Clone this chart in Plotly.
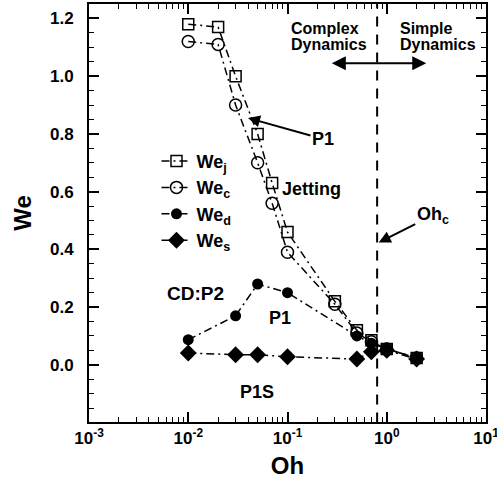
import math
import plotly.graph_objects as go

# ---------------- data ----------------
oh_jc = [0.01, 0.02, 0.03, 0.05, 0.07, 0.1, 0.3, 0.5, 0.7, 1.0, 2.0]
we_j = [1.18, 1.17, 1.00, 0.80, 0.63, 0.46, 0.22, 0.12, 0.085, 0.055, 0.024]
we_c = [1.12, 1.11, 0.90, 0.70, 0.56, 0.39, 0.21, 0.11, 0.08, 0.055, 0.024]
oh_ds = [0.01, 0.03, 0.05, 0.1, 0.5, 0.7, 1.0, 2.0]
we_d = [0.087, 0.17, 0.28, 0.25, 0.10, 0.075, 0.055, 0.024]
we_s = [0.041, 0.035, 0.035, 0.028, 0.02, 0.045, 0.05, 0.02]
oh_crit = 0.8
x_tickvals = [0.001, 0.01, 0.1, 1, 10]
x_ticktext = ["10<sup>-3</sup>", "10<sup>-2</sup>", "10<sup>-1</sup>", "10<sup>0</sup>", "10<sup>1</sup>"]
y_tickvals = [0.0, 0.2, 0.4, 0.6, 0.8, 1.0, 1.2]
y_ticktext = ["0.0", "0.2", "0.4", "0.6", "0.8", "1.0", "1.2"]

FONT = "Liberation Sans, Arial, Helvetica, sans-serif"
DASH = "8px,4px,2px,4px"
LW = 1.5

x_minor = [m * d for d in x_tickvals[:-1] for m in range(2, 10)]

fig = go.Figure()

series = [
    ("We<sub>j</sub>", oh_jc, we_j, dict(symbol="square-open", size=11, color="black", line=dict(width=1.5, color="black"))),
    ("We<sub>c</sub>", oh_jc, we_c, dict(symbol="circle-open", size=12, color="black", line=dict(width=1.5, color="black"))),
    ("We<sub>d</sub>", oh_ds, we_d, dict(symbol="circle", size=11, color="black")),
    ("We<sub>s</sub>", oh_ds, we_s, dict(symbol="diamond", size=13, color="black")),
]
for name, xs, ys, mk in series:
    fig.add_trace(go.Scatter(
        x=xs, y=ys, name=name, mode="lines+markers",
        line=dict(color="black", width=LW, dash=DASH),
        marker=mk,
    ))

# critical Ohnesorge line
fig.add_trace(go.Scatter(
    x=[oh_crit, oh_crit], y=[-0.2, 1.25], mode="lines", showlegend=False,
    line=dict(color="black", width=2, dash="10px,8px"), hoverinfo="skip",
))

def bfont(size):
    return dict(family=FONT, size=size, color="black", weight="bold")

L = math.log10
annotations = [
    dict(x=L(0.103), y=1.165, text="Complex", showarrow=False, xanchor="left", font=bfont(16)),
    dict(x=L(0.103), y=1.108, text="Dynamics", showarrow=False, xanchor="left", font=bfont(16)),
    dict(x=L(1.30), y=1.165, text="Simple", showarrow=False, xanchor="left", font=bfont(16)),
    dict(x=L(1.30), y=1.108, text="Dynamics", showarrow=False, xanchor="left", font=bfont(16)),
    # double arrow
    dict(x=L(2.5), y=1.045, ax=L(0.27), ay=1.045, axref="x", ayref="y", xref="x", yref="y",
         text="", showarrow=True, arrowhead=2, startarrowhead=2, arrowside="end+start",
         arrowsize=1.4, startarrowsize=1.4, arrowwidth=2, arrowcolor="black"),
    dict(x=L(0.04), y=0.855, ax=75, ay=21, text="P1", showarrow=True, arrowhead=2,
         arrowsize=1.2, arrowwidth=2, arrowcolor="black", font=bfont(18)),
    dict(x=L(0.176), y=0.61, text="Jetting", showarrow=False, font=bfont(18)),
    dict(x=L(0.83), y=0.424, ax=54, ay=-27, text="Oh<sub>c</sub>", showarrow=True, arrowhead=2,
         arrowsize=1.2, arrowwidth=2, arrowcolor="black", font=bfont(18)),
    dict(x=L(0.0117), y=0.248, text="CD:P2", showarrow=False, font=bfont(19)),
    dict(x=L(0.0838), y=0.162, text="P1", showarrow=False, font=bfont(18)),
    dict(x=L(0.0492), y=-0.093, text="P1S", showarrow=False, font=bfont(18)),
]

axis_common = dict(
    showline=True, linewidth=2, linecolor="black", mirror="allticks",
    ticks="inside", ticklen=10, tickwidth=1.5, tickcolor="black",
    showgrid=False, zeroline=False, automargin=False,
    tickfont=bfont(17),
)

fig.update_layout(
    width=497, height=487,
    margin=dict(l=89, r=11, t=4, b=65),
    plot_bgcolor="white", paper_bgcolor="white",
    font=dict(family=FONT, color="black"),
    showlegend=True,
    legend=dict(x=0.17, y=0.668, xanchor="left", yanchor="top",
                bgcolor="rgba(0,0,0,0)", font=bfont(18), tracegroupgap=0),
    annotations=annotations,
    xaxis=dict(
        type="log", range=[-3, 1], tickvals=x_tickvals, ticktext=x_ticktext,
        ticklabeloverflow="allow",
        title=dict(text="Oh", font=bfont(24), standoff=10),
        minor=dict(ticks="inside", ticklen=5, tickwidth=1.2, tickcolor="black",
                   tickvals=x_minor, showgrid=False),
        **axis_common,
    ),
    yaxis=dict(
        range=[-0.198, 1.25], tickvals=y_tickvals, ticktext=y_ticktext,
        title=dict(text="We", font=bfont(24), standoff=12),
        minor=dict(ticks="inside", ticklen=5, tickwidth=1.2, tickcolor="black", dtick=0.05,
                   tick0=0, showgrid=False),
        ticklabelstandoff=10,
        **axis_common,
    ),
)

fig.write_html("out.html")
